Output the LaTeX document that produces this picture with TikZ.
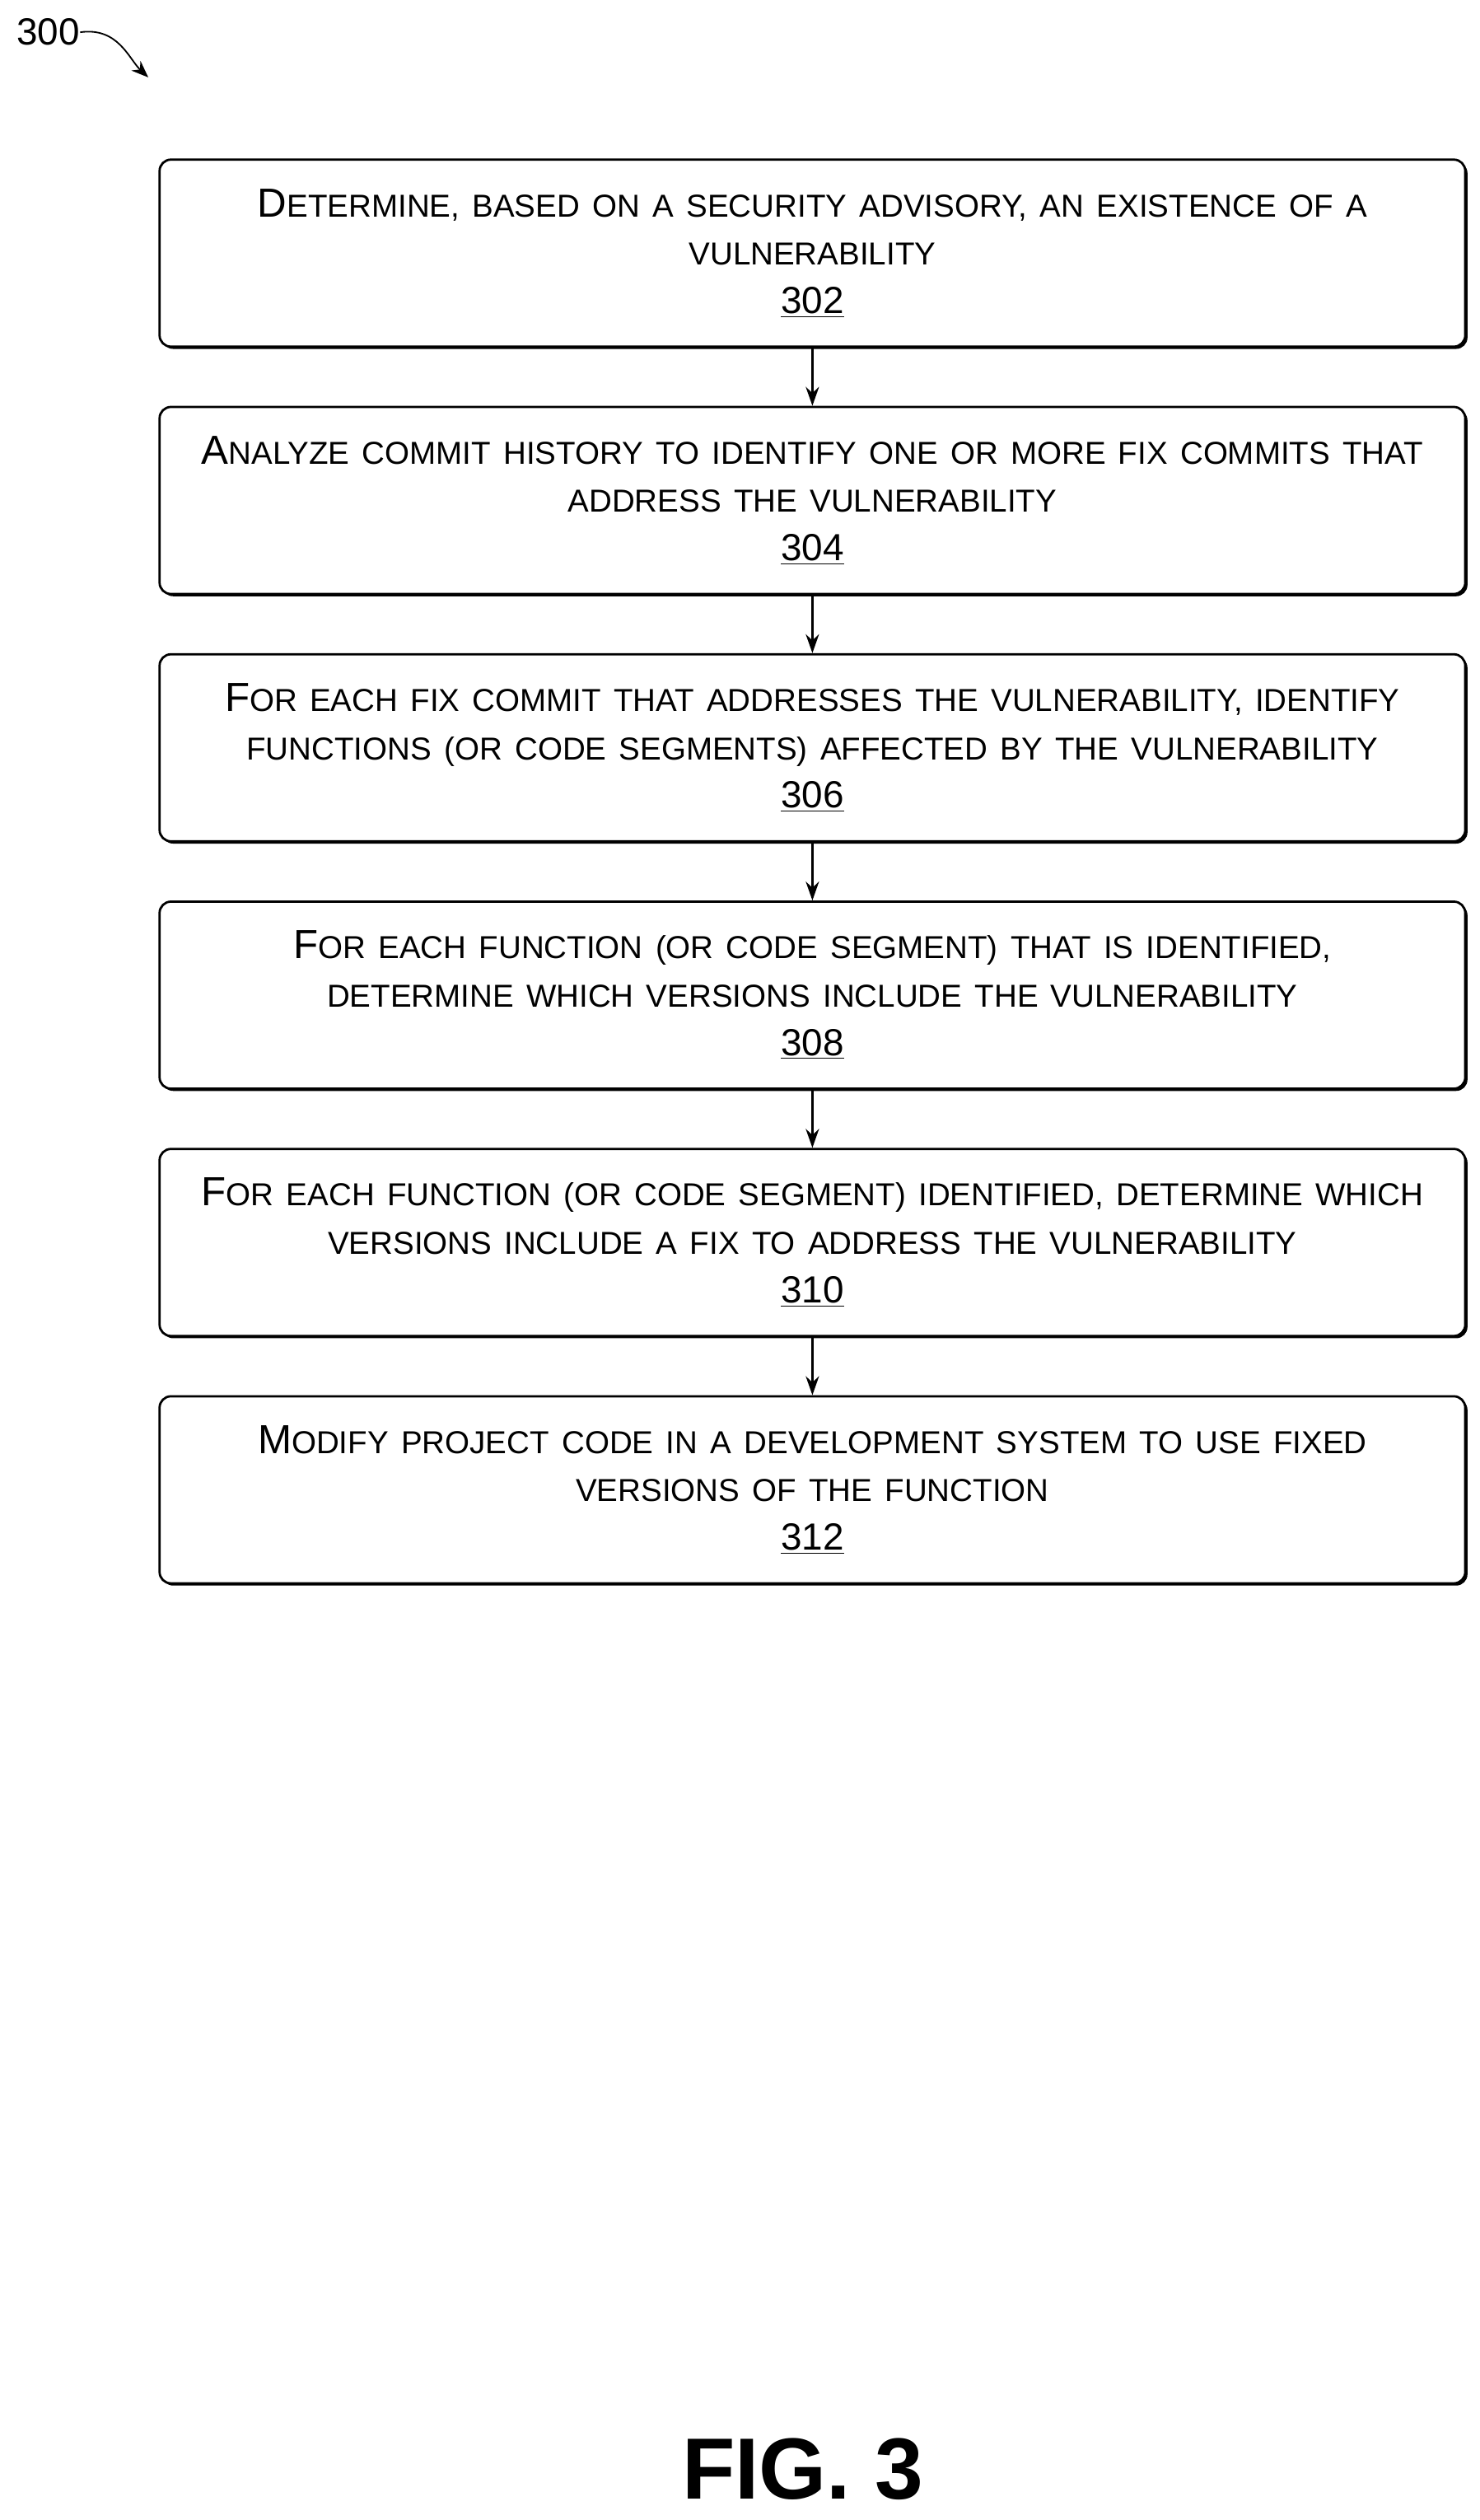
\documentclass[tikz,border=0pt]{standalone}
\usepackage{fontspec}
\setmainfont{Liberation Sans}
\usetikzlibrary{positioning,arrows.meta,shadows}
% small caps by hand: first letter large, rest smaller
\newcommand{\bigsc}[2]{{\fontsize{21.5}{25.6}\selectfont #1}{\fontsize{16.8}{25.6}\selectfont\MakeUppercase{#2}}}
\newcommand{\smsc}[1]{{\fontsize{16.8}{25.6}\selectfont\MakeUppercase{#1}}}
\begin{document}
\begin{tikzpicture}
    [box/.style={draw, very thick, rounded corners=6pt, fill=white,
        drop shadow={shadow xshift=1.2pt, shadow yshift=-1.2pt, opacity=1, fill=black},
        minimum width=24.3cm, minimum height=3.48cm, text width=24cm, align=center,
        font=\fontsize{20}{25.6}\selectfont, inner sep=2pt},
    flow/.style={-{Stealth[length=10pt, width=7pt]}, very thick},
    node distance=1.08cm]

    \useasboundingbox (0,0) rectangle (27.54,-46.89);

    \node[box] (s302) at (15.12,-4.71)
        {\bigsc{D}{etermine, based on a security advisory, an existence of a}\\ \smsc{vulnerability}\\ \underline{302}};
    \node[box, below=of s302] (s304)
        {\bigsc{A}{nalyze commit history to identify one or more fix commits that}\\ \smsc{address the vulnerability}\\ \underline{304}};
    \node[box, below=of s304] (s306)
        {\bigsc{F}{or each fix commit that addresses the vulnerability, identify}\\ \smsc{functions (or code segments) affected by the vulnerability}\\ \underline{306}};
    \node[box, below=of s306] (s308)
        {\bigsc{F}{or each function (or code segment) that is identified,}\\ \smsc{determine which versions include the vulnerability}\\ \underline{308}};
    \node[box, below=of s308] (s310)
        {\bigsc{F}{or each function (or code segment) identified, determine which}\\ \smsc{versions include a fix to address the vulnerability}\\ \underline{310}};
    \node[box, below=of s310] (s312)
        {\bigsc{M}{odify project code in a development system to use fixed}\\ \smsc{versions of the function}\\ \underline{312}};

    % connectors
    \foreach \a/\b in {s302/s304, s304/s306, s306/s308, s308/s310, s310/s312}
        \draw[flow] (\a) -- (\b);

    % figure label
    \node[font=\fontsize{20}{22}\selectfont, inner sep=0pt] (ref) at (0.9,-0.6) {300};
    \coordinate (refend) at (2.76,-1.44);
    \draw[-{Stealth[length=9pt, width=7pt]}, thick] (ref.east) .. controls (2.2,-0.5) and (2.4,-1.1) .. (refend);

    \node[font=\fontsize{46}{50}\selectfont\bfseries] (fig) at (14.94,-45.95) {FIG. 3};
\end{tikzpicture}
\end{document}
